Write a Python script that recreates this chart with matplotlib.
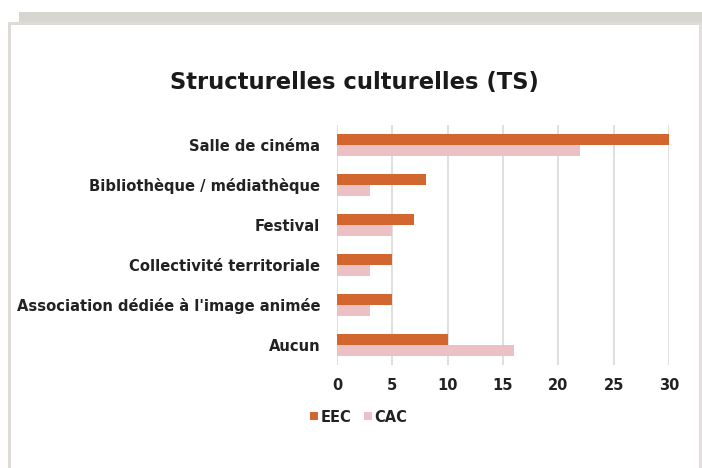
import matplotlib
matplotlib.use("Agg")
import matplotlib.pyplot as plt
from matplotlib.patches import Rectangle
import numpy as np

categories = ["Salle de cinéma", "Bibliothèque / médiathèque", "Festival",
              "Collectivité territoriale", "Association dédiée à l'image animée", "Aucun"]
eec = [30, 8, 7, 5, 5, 10]
cac = [22, 3, 5, 3, 3, 16]
series_names = ["EEC", "CAC"]
xticks = [0, 5, 10, 15, 20, 25, 30]
title = "Structurelles culturelles (TS)"

C_EEC = "#D3662E"
C_CAC = "#EBC1C5"
FONT = ["DejaVu Sans"]
plt.rcParams["font.family"] = FONT

W, H = 702, 468
fig = plt.figure(figsize=(W / 100, H / 100), dpi=100)
fig.patch.set_facecolor("white")

def px_rect(x0, y0, x1, y1, color):
    fig.patches.append(Rectangle((x0 / W, 1 - y1 / H), (x1 - x0) / W, (y1 - y0) / H,
                                 transform=fig.transFigure, facecolor=color,
                                 edgecolor="none", zorder=0))

# frame
px_rect(19, 12, 702, 22, "#D8D6D0")
px_rect(8, 22, 702, 25, "#DEDBD6")
px_rect(8, 22, 11, 468, "#DEDBD6")
px_rect(699, 25, 702, 468, "#E2DEDE")

ax = fig.add_axes([337 / W, 1 - 365 / H, (669 - 337) / W, (365 - 125) / H])
n = len(categories)
y = np.arange(n)
bh = 0.265
ax.barh(y - bh / 2, eec, height=bh, color=C_EEC, label=series_names[0], zorder=3)
ax.barh(y + bh / 2, cac, height=bh, color=C_CAC, label=series_names[1], zorder=3)

ax.set_ylim(n - 0.5, -0.5)
ax.set_xlim(0, 30)
ax.set_xticks(xticks)
ax.set_xticklabels([str(v) for v in xticks], fontsize=10.5, fontweight="bold", color="#222222")
ax.set_yticks(y)
ax.set_yticklabels(categories, fontsize=10.6, fontweight="bold", color="#222222")
ax.tick_params(axis="both", length=0)
ax.tick_params(axis="y", pad=12)
ax.tick_params(axis="x", pad=9)
ax.grid(axis="x", color="#D9D9D9", linewidth=1.2, zorder=0)
ax.set_axisbelow(True)
for s in ax.spines.values():
    s.set_visible(False)

fig.text(354 / W, 1 - 83 / H, title, ha="center", va="center",
         fontsize=16.3, fontweight="bold", color="#1a1a1a")

leg = fig.legend(loc="center", bbox_to_anchor=(359 / W, 1 - 417 / H), ncol=2,
                 frameon=False, handlelength=0.5, handleheight=0.5,
                 handletextpad=0.2, columnspacing=0.9, prop={"weight": "bold", "size": 10.5})
for t in leg.get_texts():
    t.set_color("#222222")

fig.savefig("out.png", dpi=100, facecolor="white")
